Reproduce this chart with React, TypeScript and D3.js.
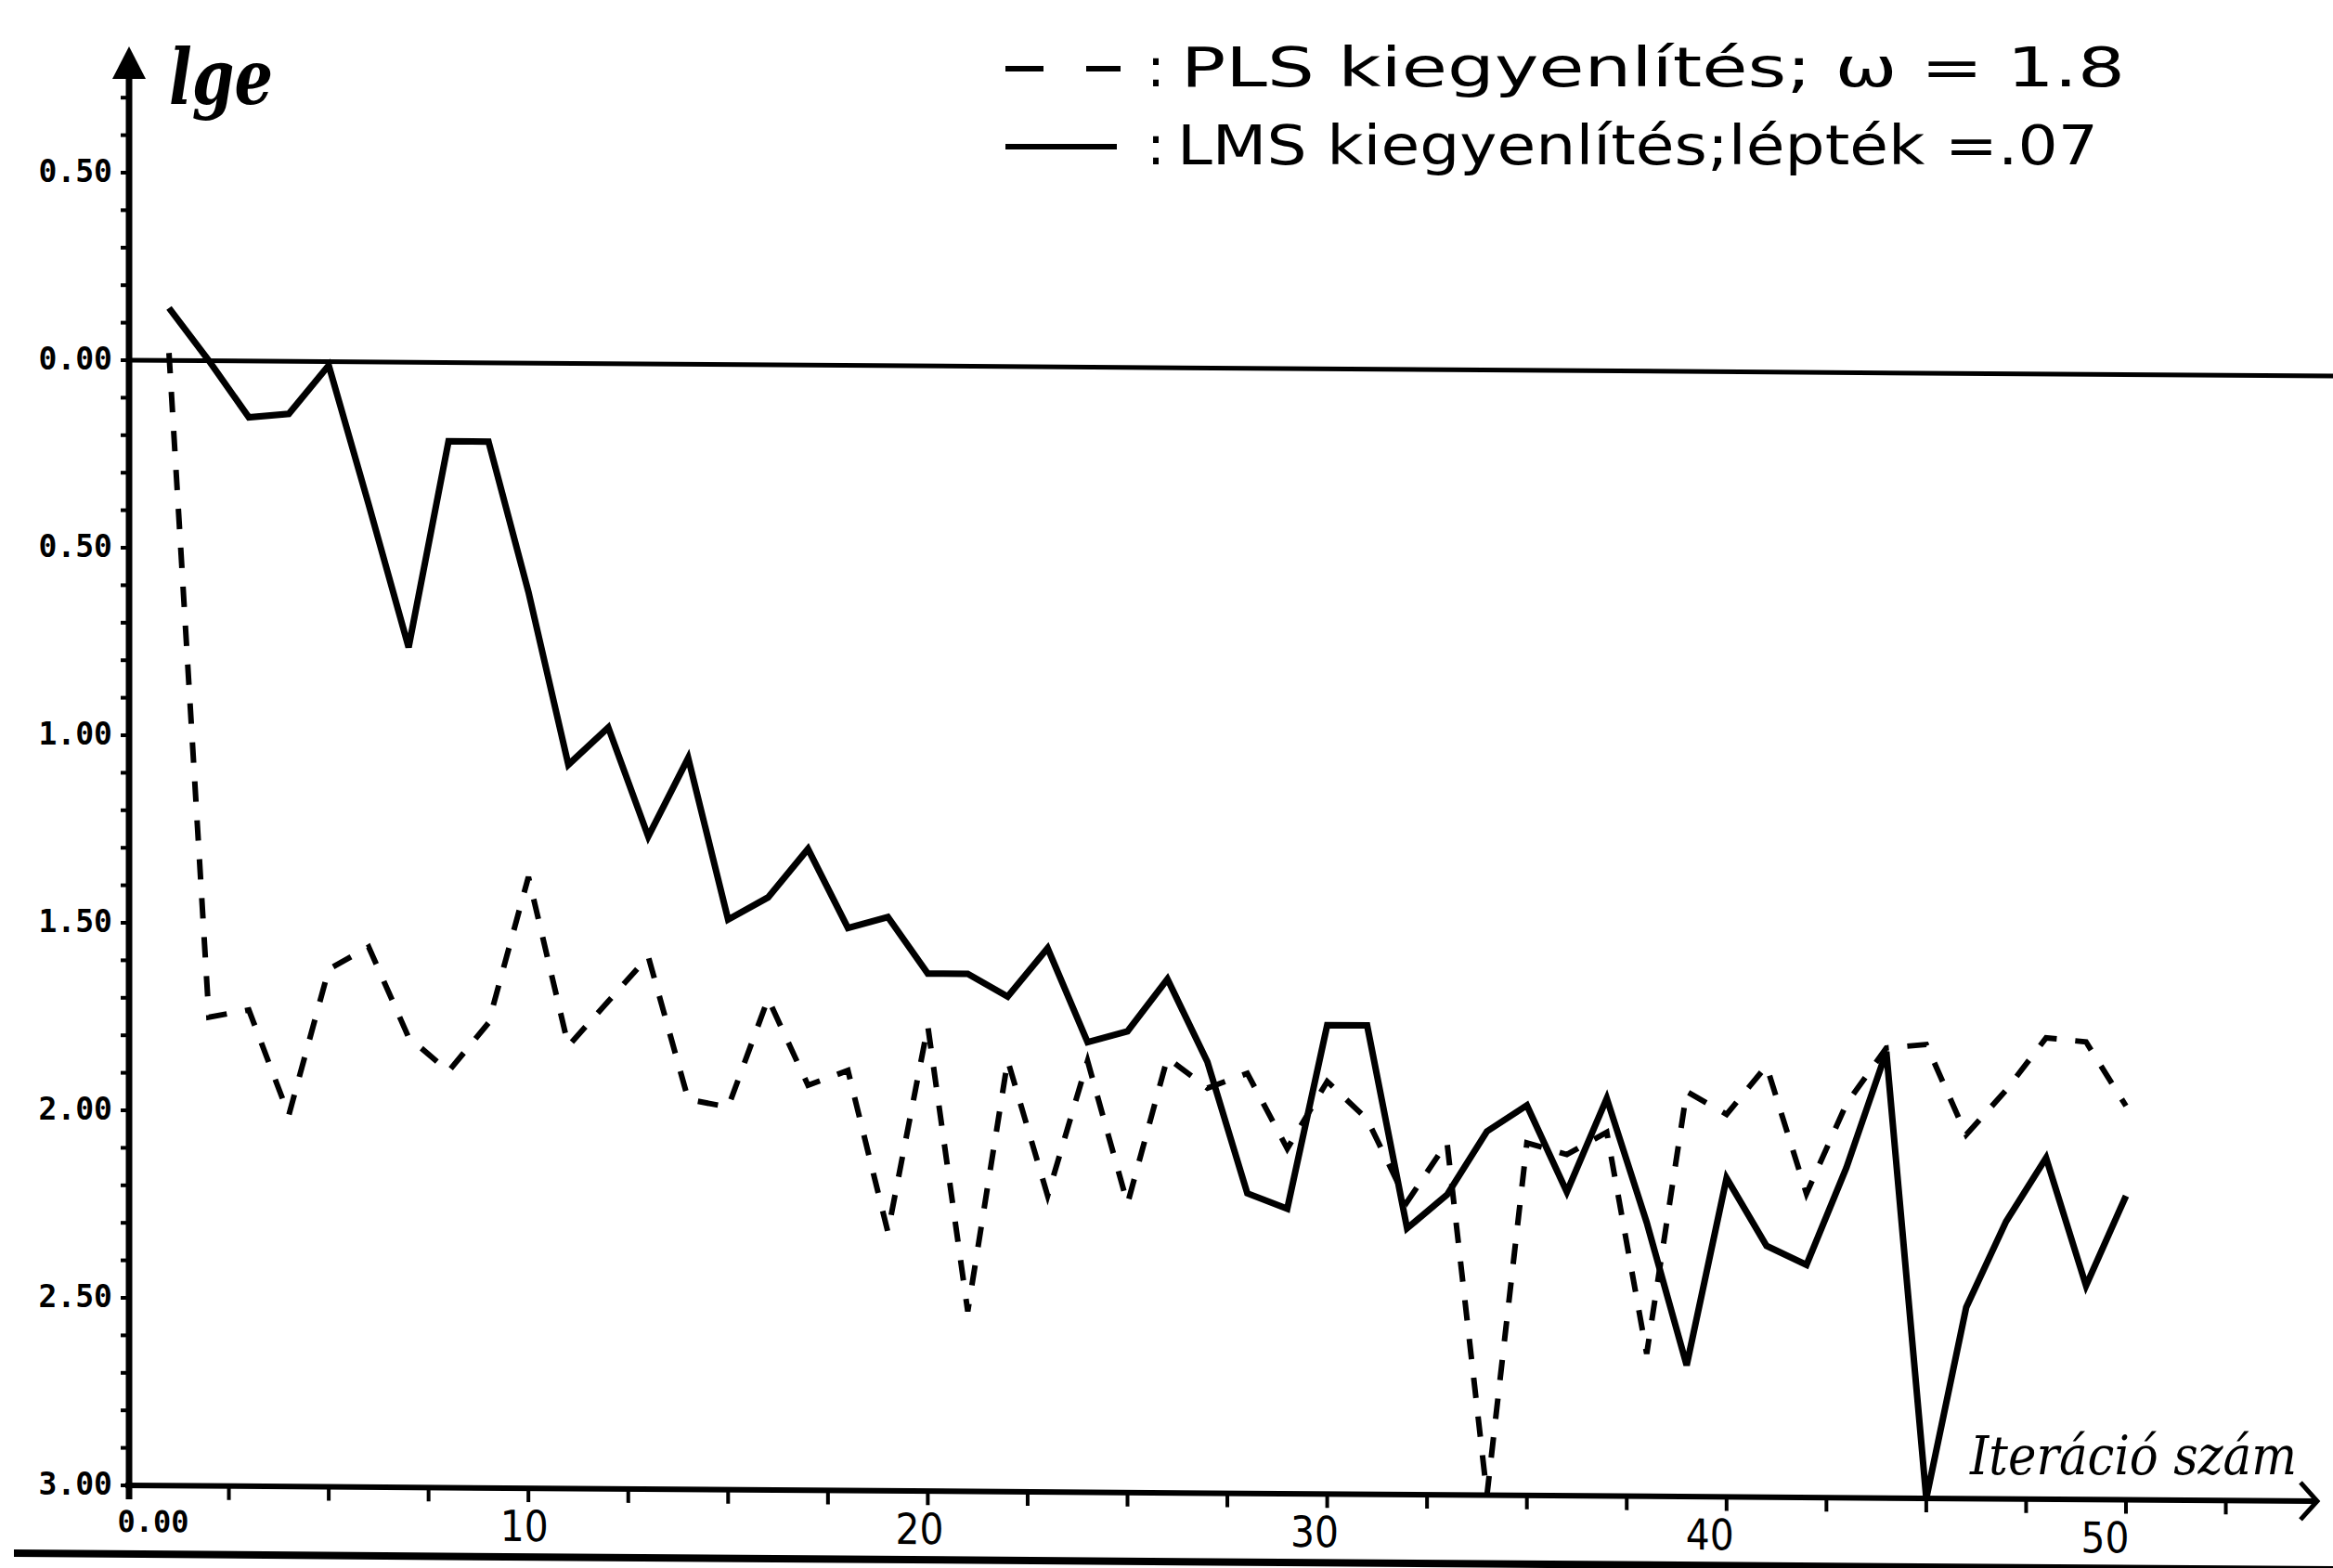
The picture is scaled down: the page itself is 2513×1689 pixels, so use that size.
import React from "react";
import * as d3 from "d3";

// lge values (drawn downward: 0 at the reference line, 3 at the x axis)
const lmsValues = [
  -0.14, 0.0, 0.15, 0.14, 0.01, 0.38, 0.76, 0.21, 0.21, 0.61,
  1.07, 0.97, 1.26, 1.05, 1.48, 1.42, 1.29, 1.5, 1.47, 1.62,
  1.62, 1.68, 1.55, 1.8, 1.77, 1.63, 1.85, 2.2, 2.24, 1.75,
  1.75, 2.29, 2.2, 2.03, 1.96, 2.19, 1.94, 2.27, 2.65, 2.15,
  2.33, 2.38, 2.12, 1.81, 3.0, 2.49, 2.26, 2.09, 2.43, 2.19,
];
const plsValues = [
  -0.02, 1.75, 1.73, 2.01, 1.62, 1.56, 1.8, 1.89, 1.76, 1.37,
  1.82, 1.7, 1.58, 1.96, 1.98, 1.69, 1.92, 1.88, 2.31, 1.76,
  2.52, 1.85, 2.21, 1.85, 2.23, 1.84, 1.92, 1.88, 2.08, 1.9,
  2.0, 2.22, 2.06, 3.0, 2.06, 2.09, 2.03, 2.62, 1.92, 1.98,
  1.85, 2.19, 1.95, 1.8, 1.79, 2.03, 1.91, 1.77, 1.78, 1.95,
];
const yTickValues = [-0.5, 0, 0.5, 1, 1.5, 2, 2.5, 3];
const yTickLabels = ["0.50", "0.00", "0.50", "1.00", "1.50", "2.00", "2.50", "3.00"];
const xTickValues = [0, 10, 20, 30, 40, 50];
const xTickLabels = ["0.00", "10", "20", "30", "40", "50"];
const legendPls = "PLS kiegyenlítés; ω   = 1.8";
const legendLms = "LMS kiegyenlítés;lépték =.07";

const W = 2513;
const H = 1689;
const X0 = 139;
const SHEAR = 0.0072; // the scan is slightly skewed

export default function App() {
  const x = d3.scaleLinear().domain([0, 50]).range([X0, 2290]);
  const y = d3.scaleLinear().domain([0, 3]).range([388, 1600]);

  const line = d3
    .line<number>()
    .x((d, i) => x(i + 1))
    .y((d) => y(d));

  const minorY = d3.range(-0.7, 3.001, 0.1);
  const minorX = d3.range(2.5, 55, 2.5);
  const ink = "#000";

  return (
    <svg
      width={W}
      height={H}
      style={{ position: "absolute", left: 0, top: 0, background: "#fff" }}
    >
      <g transform={`matrix(1 ${SHEAR} 0 1 0 ${-SHEAR * X0})`}>
        {/* zero reference line */}
        <line x1={X0} x2={W} y1={y(0)} y2={y(0)} stroke={ink} strokeWidth={5} />

        {/* x axis */}
        <line x1={X0 - 4} x2={2494} y1={y(3)} y2={y(3)} stroke={ink} strokeWidth={6} />
        <path
          d={`M${2478},${y(3) - 20} L${2496},${y(3)} L${2478},${y(3) + 20}`}
          fill="none"
          stroke={ink}
          strokeWidth={5}
        />
        {minorX.map((t) => (
          <line key={t} x1={x(t)} x2={x(t)} y1={y(3)} y2={y(3) + 15} stroke={ink} strokeWidth={4} />
        ))}
        {xTickValues.map((t, i) =>
          i === 0 ? (
            <text
              key={t}
              x={x(t) + 26}
              y={y(3) + 50}
              textAnchor="middle"
              fontFamily="DejaVu Sans Mono"
              fontWeight="bold"
              fontSize={32}
              fill={ink}
            >
              {xTickLabels[i]}
            </text>
          ) : (
            <text
              key={t}
              x={x(t) - t * 0.45}
              y={y(3) + 57}
              textAnchor="middle"
              fontFamily="DejaVu Sans"
              fontSize={46}
              textLength={52}
              lengthAdjust="spacingAndGlyphs"
              fill={ink}
            >
              {xTickLabels[i]}
            </text>
          )
        )}

        {/* series */}
        <path d={line(plsValues) ?? ""} fill="none" stroke={ink} strokeWidth={6} strokeDasharray="22 20" />
        <path d={line(lmsValues) ?? ""} fill="none" stroke={ink} strokeWidth={7} strokeLinejoin="miter" />

        {/* scan border line */}
        <line x1={15} x2={W} y1={1674} y2={1674} stroke={ink} strokeWidth={8} />
      </g>

      <text
        x={2122}
        y={1588}
        fontFamily="DejaVu Serif"
        fontStyle="italic"
        fontSize={58}
        textLength={352}
        lengthAdjust="spacingAndGlyphs"
        fill={ink}
      >
        Iteráció szám
      </text>

      {/* y axis */}
      <line x1={X0} x2={X0} y1={70} y2={1615} stroke={ink} strokeWidth={7} />
      <path d={`M${X0},50 L${X0 - 18},85 L${X0 + 18},85 Z`} fill={ink} />
      {minorY.map((t) => (
        <line key={t.toFixed(1)} x1={X0 - 9} x2={X0} y1={y(t)} y2={y(t)} stroke={ink} strokeWidth={4} />
      ))}
      {yTickValues.map((t, i) => (
        <text
          key={t}
          x={121}
          y={y(t) + 10}
          textAnchor="end"
          fontFamily="DejaVu Sans Mono"
          fontWeight="bold"
          fontSize={33}
          fill={ink}
        >
          {yTickLabels[i]}
        </text>
      ))}
      <text
        x={182}
        y={112}
        fontFamily="DejaVu Serif"
        fontStyle="italic"
        fontWeight="bold"
        fontSize={82}
        textLength={112}
        lengthAdjust="spacingAndGlyphs"
        fill={ink}
      >
        lge
      </text>

      {/* legend */}
      <line x1={1083} x2={1124} y1={74} y2={74} stroke={ink} strokeWidth={6} />
      <line x1={1170} x2={1207} y1={74} y2={74} stroke={ink} strokeWidth={6} />
      <text x={1245} y={93} textAnchor="middle" fontFamily="DejaVu Sans" fontSize={58} fill={ink}>
        :
      </text>
      <text
        x={1272}
        y={93}
        fontFamily="DejaVu Sans"
        fontSize={58}
        textLength={1017}
        lengthAdjust="spacingAndGlyphs"
        fill={ink}
      >
        {legendPls}
      </text>
      <line x1={1083} x2={1203} y1={158} y2={158} stroke={ink} strokeWidth={6} />
      <text x={1245} y={177} textAnchor="middle" fontFamily="DejaVu Sans" fontSize={58} fill={ink}>
        :
      </text>
      <text
        x={1268}
        y={177}
        fontFamily="DejaVu Sans"
        fontSize={58}
        textLength={992}
        lengthAdjust="spacingAndGlyphs"
        fill={ink}
      >
        {legendLms}
      </text>
    </svg>
  );
}
